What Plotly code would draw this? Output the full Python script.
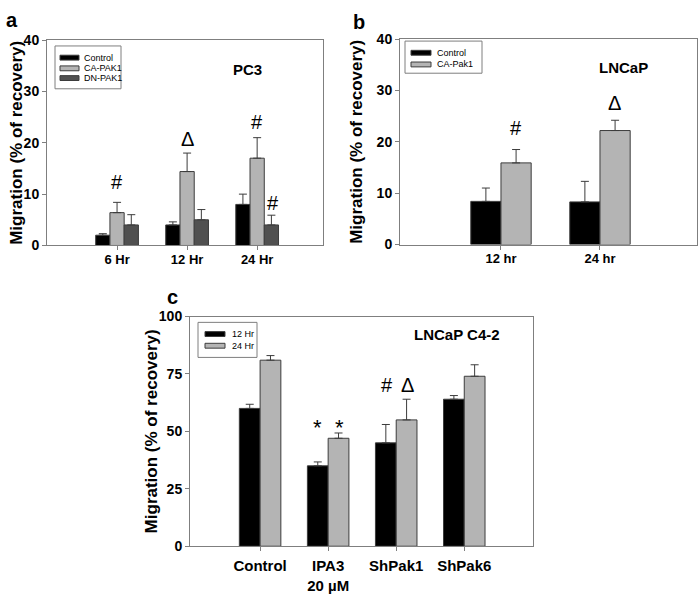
import plotly.graph_objects as go

# ---------------- data ----------------
a_cats = ["6 Hr", "12 Hr", "24 Hr"]
a_names = ["Control", "CA-PAK1", "DN-PAK1"]
a_control = [2.0, 4.0, 8.0]
a_control_err = [0.3, 0.6, 2.0]
a_ca = [6.4, 14.4, 17.0]
a_ca_err = [2.0, 3.6, 4.0]
a_dn = [4.0, 5.0, 4.0]
a_dn_err = [2.0, 2.0, 1.9]

b_cats = ["12 hr", "24 hr"]
b_names = ["Control", "CA-Pak1"]
b_control = [8.4, 8.3]
b_control_err = [2.6, 4.0]
b_ca = [15.9, 22.2]
b_ca_err = [2.6, 2.0]

c_cats = ["Control", "IPA3<br>20 µM", "ShPak1", "ShPak6"]
c_names = ["12 Hr", "24 Hr"]
c_12 = [60, 35, 45, 64]
c_12_err = [1.8, 1.7, 8.0, 1.6]
c_24 = [81, 47, 55, 74]
c_24_err = [2.0, 2.3, 9.0, 5.0]

# significance marks: (category position, y value, text)
a_marks = [(0.0, 12.3, "#"), (1.0, 20.7, "Δ"), (2.0, 24.1, "#"), (2.23, 8.3, "#")]
b_marks = [(0.15, 22.7, "#"), (1.15, 27.5, "Δ")]
c_marks = [(0.84, 51.5, "*"), (1.16, 51.5, "*"), (1.87, 70.3, "#"), (2.16, 70.3, "Δ")]

BLACK = "#000000"
LIGHT = "#b4b4b4"
DARK = "#505050"
FRAME = "#7f7f7f"
EDGE = "#3c3c3c"
FONT = "Liberation Sans"

W, H = 700, 599


def px_x(p):
    return p / W


def px_y(p):
    return 1 - p / H


fig = go.Figure()


def bar(x, y, err, name, color, xa, ya):
    n = len(y)
    fig.add_trace(go.Bar(
        x=x, y=y, name=name, xaxis=xa, yaxis=ya, showlegend=False,
        marker=dict(color=color, line=dict(color=EDGE, width=1)),
        error_y=dict(type="data", symmetric=False, array=err, arrayminus=[0] * n,
                     color=EDGE, thickness=1, width=4),
    ))


a_colors = [BLACK, LIGHT, DARK]
b_colors = [BLACK, LIGHT]
c_colors = [BLACK, LIGHT]

for vals, errs, nm, col in zip([a_control, a_ca, a_dn], [a_control_err, a_ca_err, a_dn_err],
                               a_names, a_colors):
    bar(a_cats, vals, errs, nm, col, "x", "y")
for vals, errs, nm, col in zip([b_control, b_ca], [b_control_err, b_ca_err], b_names, b_colors):
    bar(b_cats, vals, errs, nm, col, "x2", "y2")
for vals, errs, nm, col in zip([c_12, c_24], [c_12_err, c_24_err], c_names, c_colors):
    bar(c_cats, vals, errs, nm, col, "x3", "y3")

axis_common = dict(showline=True, mirror=True, linecolor=FRAME, linewidth=1,
                   ticks="outside", ticklen=4, tickcolor=FRAME, showgrid=False,
                   zeroline=False, fixedrange=True)

dom_a_x = [px_x(47), px_x(323)]
dom_a_y = [px_y(244), px_y(33)]
dom_b_x = [px_x(400), px_x(697)]
dom_b_y = [px_y(243), px_y(32)]
dom_c_x = [px_x(190), px_x(533)]
dom_c_y = [px_y(553), px_y(317)]

xtick_font = dict(family=FONT, size=13, color="black", weight="bold")
ytick_font = dict(family=FONT, size=14, color="black", weight="bold")

fig.update_layout(
    width=W, height=H, margin=dict(l=0, r=0, t=0, b=0),
    paper_bgcolor="white", plot_bgcolor="white",
    barmode="group", bargap=0.39, bargroupgap=0, showlegend=False,
    font=dict(family=FONT, color="black"),
    xaxis=dict(domain=dom_a_x, anchor="y", type="category", range=[-1.0, 2.94],
               tickfont=xtick_font, ticklabelstandoff=-2, **axis_common),
    yaxis=dict(domain=dom_a_y, anchor="x", range=[0, 40], dtick=10,
               tickfont=ytick_font, **axis_common),
    xaxis2=dict(domain=dom_b_x, anchor="y2", type="category", range=[-1.02, 1.98],
                tickfont=xtick_font, ticklabelstandoff=-2, **axis_common),
    yaxis2=dict(domain=dom_b_y, anchor="x2", range=[0, 40], dtick=10,
                tickfont=ytick_font, **axis_common),
    xaxis3=dict(domain=dom_c_x, anchor="y3", type="category", range=[-1.03, 4.01],
                tickfont=dict(family=FONT, size=15, color="black", weight="bold"),
                ticklabelstandoff=2, **axis_common),
    yaxis3=dict(domain=dom_c_y, anchor="x3", range=[0, 100], dtick=25,
                tickfont=ytick_font, **axis_common),
)

shapes = []
annotations = []

# ---- legends (box, swatches, labels) ----
legend_specs = [
    # box (x0, y0, x1, y1), swatch x0, x1, text x, row y positions, names, colors
    ((55, 39, 121, 83), 60, 79, 82, [51, 62, 72], a_names, a_colors),
    ((405, 34, 482, 67), 411, 431, 435, [46, 58], b_names, b_colors),
    ((198, 323, 257, 359), 205, 225, 230, [335, 347], c_names, c_colors),
]
for box, sx0, sx1, tx, rows, names, colors in legend_specs:
    shapes.append(dict(type="rect", xref="paper", yref="paper",
                       x0=px_x(box[0]), x1=px_x(box[2]), y0=px_y(box[3]), y1=px_y(box[1]),
                       line=dict(color=FRAME, width=1), fillcolor="white", layer="above"))
    for ry, nm, col in zip(rows, names, colors):
        shapes.append(dict(type="rect", xref="paper", yref="paper",
                           x0=px_x(sx0), x1=px_x(sx1), y0=px_y(ry + 2.5), y1=px_y(ry - 2.5),
                           line=dict(color=EDGE, width=1), fillcolor=col, layer="above"))
        annotations.append(dict(text=nm, xref="paper", yref="paper", x=px_x(tx), y=px_y(ry),
                                showarrow=False, xanchor="left", yanchor="middle",
                                font=dict(family=FONT, size=9, color="black")))

# panel letters
for txt, x, y in [("a", 12, 12), ("b", 359, 14), ("c", 172, 297)]:
    annotations.append(dict(text=txt, xref="paper", yref="paper", x=px_x(x), y=px_y(y),
                            showarrow=False, xanchor="center", yanchor="middle",
                            font=dict(family=FONT, size=20, weight="bold", color="black")))
# y titles
for x, dom in [(17, dom_a_y), (357, dom_b_y), (151, dom_c_y)]:
    annotations.append(dict(text="Migration (% of recovery)", xref="paper", yref="paper",
                            x=px_x(x), y=(dom[0] + dom[1]) / 2, textangle=-90,
                            showarrow=False, xanchor="center", yanchor="middle",
                            font=dict(family=FONT, size=17, weight="bold", color="black")))
# panel names
for txt, x, y in [("PC3", 247, 63), ("LNCaP", 623, 61), ("LNCaP C4-2", 457, 335)]:
    annotations.append(dict(text=txt, xref="paper", yref="paper", x=px_x(x), y=px_y(y),
                            showarrow=False, xanchor="center", yanchor="middle",
                            font=dict(family=FONT, size=15, weight="bold", color="black")))
# significance marks
for marks, xr, yr in [(a_marks, "x", "y"), (b_marks, "x2", "y2"), (c_marks, "x3", "y3")]:
    for xo, yv, txt in marks:
        annotations.append(dict(text=txt, xref=xr, yref=yr, x=xo, y=yv, showarrow=False,
                                xanchor="center", yanchor="middle",
                                font=dict(family=FONT, size=22 if txt == "*" else 20,
                                          color="black")))
fig.update_layout(shapes=shapes, annotations=annotations)

fig.write_html("out.html", config={"displayModeBar": False},
               post_script="document.body.style.margin='0';")
